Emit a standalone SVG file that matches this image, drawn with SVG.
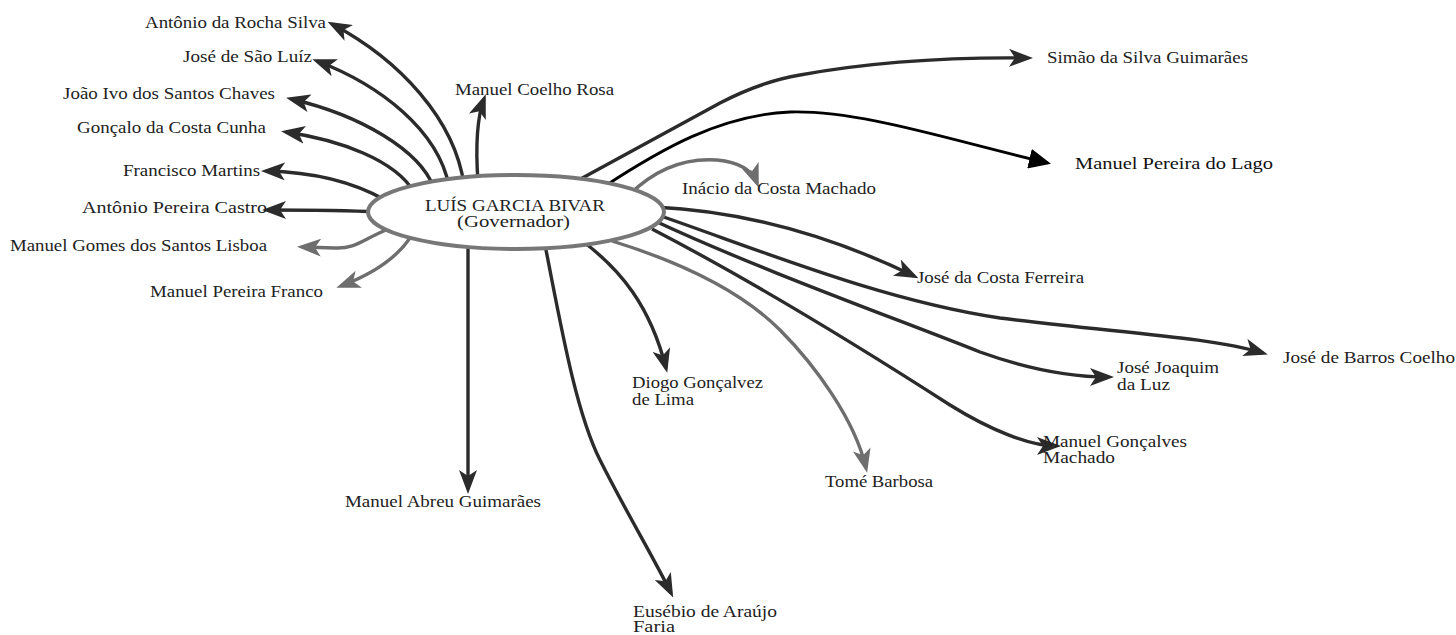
<svg xmlns="http://www.w3.org/2000/svg" width="1456" height="635" viewBox="0 0 1456 635">
<style>
.lbl{font-family:"Liberation Serif","Times New Roman",serif;font-size:16px;fill:#222}
.big{font-size:17px;fill:#111}
.c{fill:none;stroke:#2b2b2b;stroke-width:3.4;marker-end:url(#ad)}
.g{stroke:#6e6e6e;marker-end:url(#ag)}
.k{stroke:#000;stroke-width:2.8;marker-end:url(#ak)}
</style>
<defs>
<marker id="ad" markerUnits="userSpaceOnUse" viewBox="0 0 24 18" markerWidth="24" markerHeight="18" refX="19" refY="9" orient="auto"><path d="M0,0 L24,9 L0,18 L6,9 Z" fill="#2b2b2b"/></marker>
<marker id="ag" markerUnits="userSpaceOnUse" viewBox="0 0 24 18" markerWidth="24" markerHeight="18" refX="19" refY="9" orient="auto"><path d="M0,0 L24,9 L0,18 L6,9 Z" fill="#6e6e6e"/></marker>
<marker id="ak" markerUnits="userSpaceOnUse" viewBox="0 0 22 20" markerWidth="22" markerHeight="20" refX="19" refY="10" orient="auto"><path d="M0,0 L22,10 L0,20 Z" fill="#000"/></marker>
</defs>
<rect width="1456" height="635" fill="#fff"/>
<g id="connectors">
<path class="c" d="M464,185 C455,120 400,60 332,24"/>
<path class="c" d="M449,186 C438,130 380,85 317,61"/>
<path class="c" d="M434,188 C420,150 360,115 291,99"/>
<path class="c" d="M414,192 C395,160 340,140 286,132"/>
<path class="c" d="M385,200 C350,180 310,172 266,171"/>
<path class="c" d="M378,212 C340,210 300,210 267,210"/>
<path class="c g" d="M386,230 C362,240 355,249 335,248 L302,247"/>
<path class="c g" d="M410,238 C395,260 370,275 341,286"/>
<path class="c" d="M478,182 C475,140 478,115 484,99"/>
<path class="c" d="M575,182 L720,103 C745,90 770,80 800,75 C860,64 940,57 1028,58"/>
<path class="c k" d="M605,186 C660,150 720,115 790,112 C860,110 950,140 1048,163"/>
<path class="c g" d="M630,194 C660,165 690,158 717,160 C738,162 752,170 757,183"/>
<path class="c" d="M655,207 C760,212 850,245 914,276"/>
<path class="c" d="M655,214 C760,250 880,300 1000,318 C1120,333 1210,337 1263,353"/>
<path class="c" d="M655,221 C760,270 900,320 980,352 C1030,370 1070,377 1109,377"/>
<path class="c" d="M652,229 C760,285 880,360 950,405 C990,430 1030,446 1056,446"/>
<path class="c g" d="M612,241 C680,262 740,290 780,330 C815,365 855,420 866,468"/>
<path class="c" d="M585,243 C620,270 650,305 666,368"/>
<path class="c" d="M545,245 C560,320 575,410 600,460 C625,510 655,560 671,593"/>
<path class="c" d="M468,245 L468,489"/>
</g>
<g id="n-center">
<ellipse cx="516" cy="212" rx="148" ry="37" fill="#fff" stroke="#777" stroke-width="4"/>
<text class="lbl" x="425" y="211" textLength="180" lengthAdjust="spacingAndGlyphs">LUÍS GARCIA BIVAR</text>
<text class="lbl" x="457" y="227" textLength="113" lengthAdjust="spacingAndGlyphs">(Governador)</text>
</g>
<g id="n-rocha"><text class="lbl" x="145" y="28" textLength="181" lengthAdjust="spacingAndGlyphs">Antônio da Rocha Silva</text></g>
<g id="n-saoluiz"><text class="lbl" x="183" y="62" textLength="129" lengthAdjust="spacingAndGlyphs">José de São Luíz</text></g>
<g id="n-chaves"><text class="lbl" x="63" y="99" textLength="212" lengthAdjust="spacingAndGlyphs">João Ivo dos Santos Chaves</text></g>
<g id="n-cunha"><text class="lbl" x="77" y="133" textLength="189" lengthAdjust="spacingAndGlyphs">Gonçalo da Costa Cunha</text></g>
<g id="n-martins"><text class="lbl" x="123" y="176" textLength="137" lengthAdjust="spacingAndGlyphs">Francisco Martins</text></g>
<g id="n-castro"><text class="lbl" x="82" y="213" textLength="185" lengthAdjust="spacingAndGlyphs">Antônio Pereira Castro</text></g>
<g id="n-lisboa"><text class="lbl" x="10" y="251" textLength="257" lengthAdjust="spacingAndGlyphs">Manuel Gomes dos Santos Lisboa</text></g>
<g id="n-franco"><text class="lbl" x="150" y="297" textLength="173" lengthAdjust="spacingAndGlyphs">Manuel Pereira Franco</text></g>
<g id="n-rosa"><text class="lbl" x="455" y="95" textLength="159" lengthAdjust="spacingAndGlyphs">Manuel Coelho Rosa</text></g>
<g id="n-simao"><text class="lbl" x="1047" y="63" textLength="201" lengthAdjust="spacingAndGlyphs">Simão da Silva Guimarães</text></g>
<g id="n-lago"><text class="lbl big" x="1075" y="169" textLength="198" lengthAdjust="spacingAndGlyphs">Manuel Pereira do Lago</text></g>
<g id="n-inacio"><text class="lbl" x="682" y="194" textLength="194" lengthAdjust="spacingAndGlyphs">Inácio da Costa Machado</text></g>
<g id="n-ferreira"><text class="lbl" x="917" y="283" textLength="167" lengthAdjust="spacingAndGlyphs">José da Costa Ferreira</text></g>
<g id="n-barros"><text class="lbl" x="1283" y="363" textLength="172" lengthAdjust="spacingAndGlyphs">José de Barros Coelho</text></g>
<g id="n-luz"><text class="lbl" x="1117" y="373" textLength="102" lengthAdjust="spacingAndGlyphs">José Joaquim</text><text class="lbl" x="1117" y="390" textLength="53" lengthAdjust="spacingAndGlyphs">da Luz</text></g>
<g id="n-machado"><text class="lbl" x="1043" y="447" textLength="144" lengthAdjust="spacingAndGlyphs">Manuel Gonçalves</text><text class="lbl" x="1043" y="463" textLength="72" lengthAdjust="spacingAndGlyphs">Machado</text></g>
<g id="n-tome"><text class="lbl" x="825" y="487" textLength="108" lengthAdjust="spacingAndGlyphs">Tomé Barbosa</text></g>
<g id="n-lima"><text class="lbl" x="632" y="388" textLength="131" lengthAdjust="spacingAndGlyphs">Diogo Gonçalvez</text><text class="lbl" x="632" y="405" textLength="62" lengthAdjust="spacingAndGlyphs">de Lima</text></g>
<g id="n-abreu"><text class="lbl" x="345" y="507" textLength="196" lengthAdjust="spacingAndGlyphs">Manuel Abreu Guimarães</text></g>
<g id="n-faria"><text class="lbl" x="633" y="617" textLength="144" lengthAdjust="spacingAndGlyphs">Eusébio de Araújo</text><text class="lbl" x="633" y="632" textLength="42" lengthAdjust="spacingAndGlyphs">Faria</text></g>
</svg>
